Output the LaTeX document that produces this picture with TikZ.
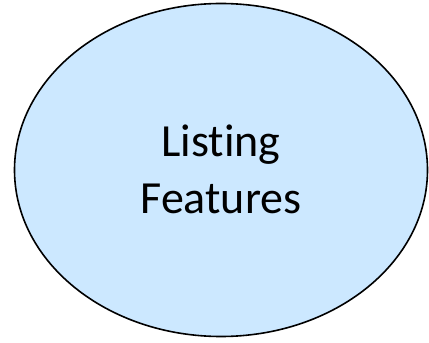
\documentclass[tikz,border=0pt]{standalone}
\usepackage{fontspec}
\setmainfont[Ligatures={NoCommon,NoRequired,NoContextual,NoDiscretionary}]{Carlito}
\usetikzlibrary{shapes.geometric}
\definecolor{bubblefill}{RGB}{204,232,255}
\tikzset{
  bubble/.style={ellipse, draw=black, line width=1.6pt, fill=bubblefill,
    minimum width=413pt, minimum height=333pt, inner sep=0pt},
  bubbletext/.style={align=center, font=\fontsize{46}{57}\selectfont}
}
\begin{document}
\begin{tikzpicture}[x=1pt,y=1pt]
  \useasboundingbox (0,0) rectangle (429,343);
  \node[bubble] (feat) at (221,173) {};
  \node[bubbletext] (label) at ([yshift=1pt]feat.center) {Listing\\Features};
\end{tikzpicture}
\end{document}
